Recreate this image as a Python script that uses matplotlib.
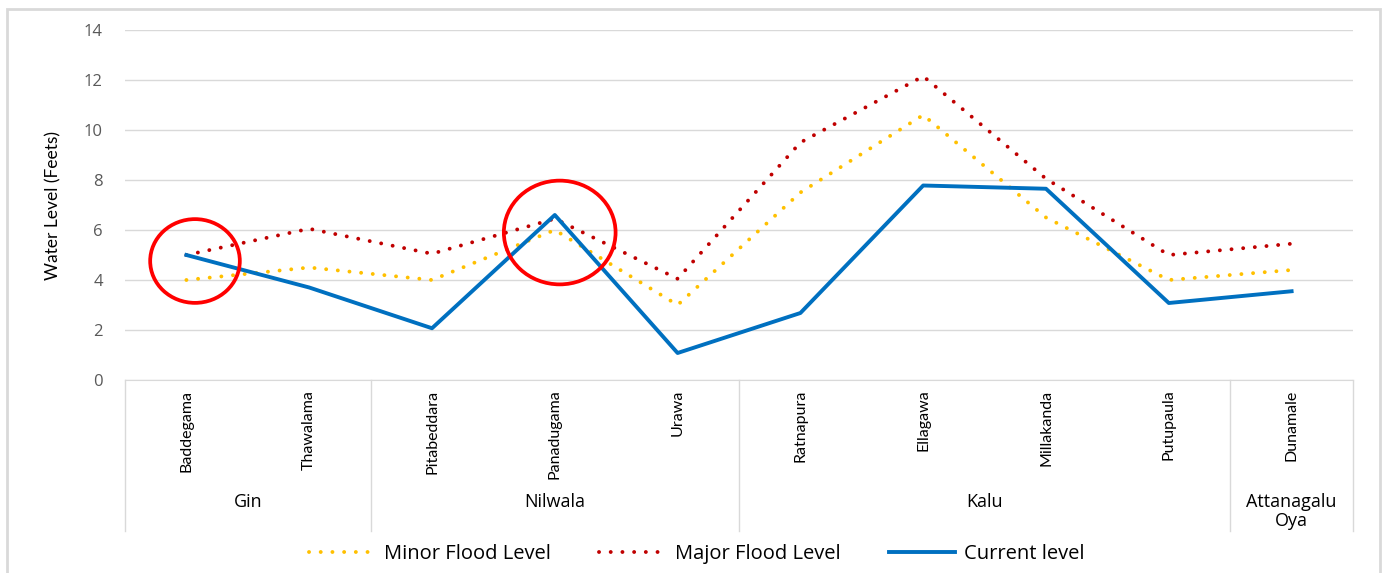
import matplotlib.pyplot as plt
from matplotlib.patches import Ellipse, Rectangle

# stations along x, grouped by river basin
stations = ["Baddegama", "Thawalama", "Pitabeddara", "Panadugama", "Urawa",
            "Ratnapura", "Ellagawa", "Millakanda", "Putupaula", "Dunamale"]
rivers = ["Gin", "Nilwala", "Kalu", "Attanagalu\nOya"]
river_sizes = [2, 3, 4, 1]

# water levels (feet)
minor_flood = [4.0, 4.5, 4.0, 6.0, 3.0, 7.5, 10.6, 6.5, 4.0, 4.4]
major_flood = [5.0, 6.05, 5.05, 6.45, 4.05, 9.5, 12.15, 8.05, 5.0, 5.45]
current_level = [5.0, 3.7, 2.07, 6.6, 1.08, 2.68, 7.78, 7.65, 3.08, 3.55]

# highlighted stations: (x centre, y centre, width, height) in data units
highlights = [(0.07, 4.76, 0.73, 3.35), (3.04, 5.9, 0.91, 4.15)]

plt.rcParams['font.family'] = ['Lato', 'DejaVu Sans']
wide = ['Open Sans', 'DejaVu Sans']

fig = plt.figure(figsize=(13.88, 5.73), dpi=100)
ax = fig.add_axes([125 / 1388, 1 - 380 / 573, 1228 / 1388, 350 / 573])

x = range(len(stations))
dots = (0, (0.01, 3.0))
ax.plot(x, minor_flood, color='#FFC000', lw=2.8, ls=dots, dash_capstyle='round',
        label="Minor Flood Level")
ax.plot(x, major_flood, color='#C00000', lw=2.8, ls=dots, dash_capstyle='round',
        label="Major Flood Level")
ax.plot(x, current_level, color='#0070C0', lw=2.8, label="Current level")

for cx, cy, w, h in highlights:
    ax.add_patch(Ellipse((cx, cy), w, h, fill=False, ec='#FF0000', lw=2.7,
                         clip_on=False, zorder=5))

ax.set_xlim(-0.5, len(stations) - 0.5)
ax.set_ylim(0, 14)
ax.set_yticks(range(0, 15, 2))
ax.grid(axis='y', color='#d9d9d9', lw=1)
ax.set_axisbelow(True)
for s in ['top', 'right', 'left']:
    ax.spines[s].set_visible(False)
ax.spines['bottom'].set_color('#d9d9d9')

ax.set_xticks(list(x))
ax.set_xticklabels(stations, rotation=90, fontsize=11.5, color='black')
ax.tick_params(axis='x', length=0, pad=7)
ax.tick_params(axis='y', length=0, pad=16, labelcolor='#595959')
for lab in ax.get_yticklabels():
    lab.set_fontsize(12)
    lab.set_family(wide)

ax.set_ylabel("Water Level (Feets)", fontsize=12.5)
ax.yaxis.set_label_coords(-64 / 1228, 0.5)

# multi-level category axis: separators and river names
trans = ax.get_xaxis_transform()
edge = -0.5
ax.plot([edge, edge], [0, -0.43], color='#d9d9d9', lw=1, transform=trans, clip_on=False)
for name, n in zip(rivers, river_sizes):
    ax.text(edge + n / 2, -0.322, name, transform=trans, ha='center', va='top',
            fontsize=13, family=wide, linespacing=1.1)
    edge += n
    ax.plot([edge, edge], [0, -0.43], color='#d9d9d9', lw=1, transform=trans,
            clip_on=False)

leg = fig.legend(loc='center', bbox_to_anchor=(0.502, 1 - 554 / 573), ncol=3,
                 frameon=False, prop={'family': wide, 'size': 14.5},
                 handlelength=3.3, columnspacing=2.4, handletextpad=0.45)

# chart frame
fig.patches.append(Rectangle((7 / 1388, -0.02), 1373 / 1388, 1.02 - 9 / 573,
                             transform=fig.transFigure, fill=False, ec='#d9d9d9', lw=2))

fig.savefig("out.png", dpi=100)
